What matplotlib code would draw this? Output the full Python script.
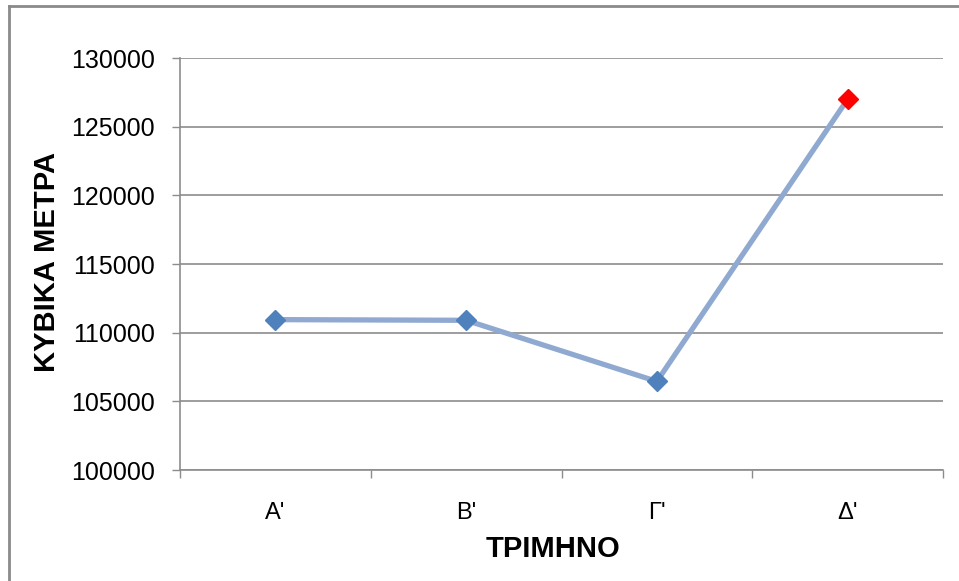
import matplotlib
matplotlib.use("Agg")
import matplotlib.pyplot as plt
from matplotlib.lines import Line2D
import numpy as np


# data
categories = ["Α'", "Β'", "Γ'", "Δ'"]
values = [110950, 110900, 106450, 127000]
yticks = [100000, 105000, 110000, 115000, 120000, 125000, 130000]

line_color = "#8FA9D0"
marker_color = "#4F81BD"
last_color = "#FF0000"
grid_color = "#8C8C8C"

plt.rcParams["font.family"] = ["Liberation Sans", "DejaVu Sans"]

fig = plt.figure(figsize=(9.59, 5.81), dpi=100)
ax = fig.add_axes([180/959, 1 - 470/581, (943 - 180)/959, (470 - 58)/581])

x = np.arange(1, len(categories) + 1)
ax.plot(x, values, color=line_color, lw=3.8, zorder=3, solid_capstyle="round")
ax.plot(x[:-1], values[:-1], "D", color=marker_color, ms=10.5, mec=marker_color, zorder=4)
ax.plot(x[-1:], values[-1:], "D", color=last_color, ms=10.5, mec=last_color, zorder=4)

# y axis
ax.set_ylim(yticks[0], yticks[-1])
ax.set_yticks(yticks)
ax.set_yticklabels([str(v) for v in yticks], fontsize=18)
ax.yaxis.grid(True, color=grid_color, lw=1.2)
ax.set_axisbelow(True)
ax.tick_params(axis="y", length=6, width=1, color=grid_color, pad=12)

# x axis: ticks between categories, labels at centres
ax.set_xlim(0.5, len(categories) + 0.5)
ax.set_xticks(np.arange(0.5, len(categories) + 1, 1.0))
ax.set_xticklabels([])
ax.set_xticks(x, minor=True)
ax.set_xticklabels(categories, minor=True, fontsize=17)
ax.tick_params(axis="x", which="major", length=6, width=1, color=grid_color)
ax.tick_params(axis="x", which="minor", length=0, pad=23)

for s in ["top", "right"]:
    ax.spines[s].set_visible(False)
for s in ["left", "bottom"]:
    ax.spines[s].set_color(grid_color)
    ax.spines[s].set_linewidth(1.2)

fig.text(553/959, 1 - 549/581, "ΤΡΙΜΗΝΟ", fontsize=21, fontweight="bold",
         ha="center", va="center")
fig.text(47/959, 1 - 261.5/581, "ΚΥΒΙΚΑ ΜΕΤΡΑ", fontsize=21, fontweight="bold",
         ha="center", va="center", rotation=90)

# outer chart border (only top and left visible in the crop)
fig.add_artist(Line2D([8.5/959, 1], [1 - 6/581, 1 - 6/581], color="#8A8A8A", lw=2))
fig.add_artist(Line2D([8.5/959, 8.5/959], [0, 1 - 6/581], color="#8A8A8A", lw=2))

fig.savefig("out.png", dpi=100)
